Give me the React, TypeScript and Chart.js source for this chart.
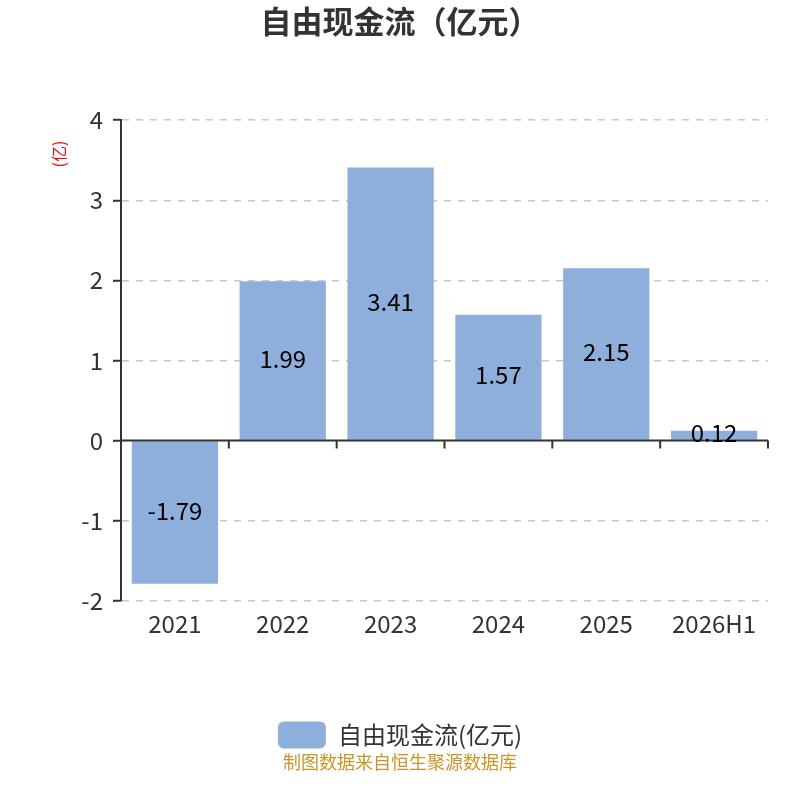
import { useEffect, useRef } from 'react';
import { Chart, ChartConfiguration, Plugin, registerables } from 'chart.js';

Chart.register(...registerables);

const categories = ['2021', '2022', '2023', '2024', '2025', '2026H1'];
const freeCashFlow = [-1.79, 1.99, 3.41, 1.57, 2.15, 0.12];
const yMin = -2;
const yMax = 4;
const seriesName = '自由现金流(亿元)';
const chartTitle = '自由现金流（亿元）';
const unitLabel = '(亿)';
const sourceNote = '制图数据来自恒生聚源数据库';

const FONT = '"Noto Sans CJK SC", "Noto Sans", sans-serif';
const BAR_COLOR = '#8eafdb';
const AXIS_COLOR = '#333333';

// x axis line sits on the zero value, with ticks between categories
const zeroAxisPlugin: Plugin<'bar'> = {
  id: 'zeroAxis',
  afterDatasetsDraw(chart) {
    const { ctx, chartArea } = chart;
    const x = chart.scales.x;
    const y0 = chart.scales.y.getPixelForValue(0);
    const half = (x.getPixelForValue(1) - x.getPixelForValue(0)) / 2;
    ctx.save();
    ctx.strokeStyle = AXIS_COLOR;
    ctx.lineWidth = 2;
    ctx.beginPath();
    ctx.moveTo(chartArea.left, y0);
    ctx.lineTo(chartArea.right, y0);
    for (let i = 0; i <= categories.length; i++) {
      const px = x.getPixelForValue(i) - half;
      ctx.moveTo(px, y0);
      ctx.lineTo(px, y0 + 8);
    }
    ctx.stroke();
    ctx.restore();
  },
};

// value labels in the middle of each bar
const barLabelPlugin: Plugin<'bar'> = {
  id: 'barLabels',
  afterDatasetsDraw(chart) {
    const { ctx } = chart;
    const meta = chart.getDatasetMeta(0);
    ctx.save();
    ctx.font = `24px ${FONT}`;
    ctx.fillStyle = '#000';
    ctx.textAlign = 'center';
    ctx.textBaseline = 'middle';
    meta.data.forEach((bar, i) => {
      const { x, y } = bar.getCenterPoint();
      ctx.fillText(freeCashFlow[i].toFixed(2), x, y - 2);
    });
    ctx.restore();
  },
};

// small red unit note left of the y axis
const unitPlugin: Plugin<'bar'> = {
  id: 'unitNote',
  afterDraw(chart) {
    const { ctx } = chart;
    ctx.save();
    ctx.translate(59, 154);
    ctx.rotate(-Math.PI / 2);
    ctx.font = `16px ${FONT}`;
    ctx.fillStyle = '#ff0000';
    ctx.textAlign = 'center';
    ctx.textBaseline = 'middle';
    ctx.fillText(unitLabel, 0, 0);
    ctx.restore();
  },
};

export default function App() {
  const canvasRef = useRef<HTMLCanvasElement>(null);
  const chartRef = useRef<Chart | null>(null);

  useEffect(() => {
    document.body.style.margin = '0';
    if (!canvasRef.current) return;
    if (chartRef.current) chartRef.current.destroy();

    const config: ChartConfiguration<'bar'> = {
      type: 'bar',
      data: {
        labels: categories,
        datasets: [
          {
            label: seriesName,
            data: freeCashFlow,
            backgroundColor: BAR_COLOR,
            barPercentage: 0.8,
            categoryPercentage: 1,
          },
        ],
      },
      options: {
        responsive: false,
        animation: false,
        layout: { padding: 0 },
        scales: {
          x: {
            grid: { display: false, drawTicks: false },
            border: { display: false },
            ticks: { color: AXIS_COLOR, font: { size: 24, family: FONT }, padding: 9 },
            afterFit: (scale) => {
              scale.height += 70;
            },
          },
          y: {
            min: yMin,
            max: yMax,
            ticks: {
              stepSize: 1,
              color: AXIS_COLOR,
              font: { size: 24, family: FONT },
              padding: 10,
            },
            grid: {
              color: (c) => (c.tick && c.tick.value === 0 ? 'rgba(0,0,0,0)' : '#c8c8c8'),
              lineWidth: 1.5,
              tickColor: AXIS_COLOR,
              tickLength: 8,
              tickWidth: 2,
            },
            border: { display: true, color: AXIS_COLOR, width: 2, dash: [7, 7] },
            afterFit: (scale) => {
              scale.width = 121;
            },
          },
          // empty right axis, only keeps a margin on the right side
          gap: {
            type: 'linear',
            position: 'right',
            ticks: { display: false },
            grid: { display: false, drawTicks: false },
            border: { display: false },
            afterFit: (scale) => {
              scale.width = 32;
            },
          },
        },
        plugins: {
          title: {
            display: true,
            text: chartTitle,
            color: AXIS_COLOR,
            font: { size: 31, weight: 'bold', family: FONT },
            padding: { top: 3, bottom: 80 },
          },
          subtitle: {
            display: true,
            text: sourceNote,
            position: 'bottom',
            color: '#c8952b',
            font: { size: 18, family: FONT },
            padding: { top: -7, bottom: 27 },
          },
          legend: {
            position: 'bottom',
            labels: {
              boxWidth: 48,
              boxHeight: 27,
              useBorderRadius: true,
              borderRadius: 6,
              color: AXIS_COLOR,
              font: { size: 24, family: FONT },
              padding: 4,
            },
          },
          tooltip: { enabled: false },
        },
      },
      plugins: [zeroAxisPlugin, barLabelPlugin, unitPlugin],
    };

    chartRef.current = new Chart(canvasRef.current, config);

    return () => {
      if (chartRef.current) {
        chartRef.current.destroy();
        chartRef.current = null;
      }
    };
  }, []);

  return (
    <div style={{ width: 800, height: 800, background: '#fff' }}>
      <canvas ref={canvasRef} width={800} height={800} />
    </div>
  );
}
